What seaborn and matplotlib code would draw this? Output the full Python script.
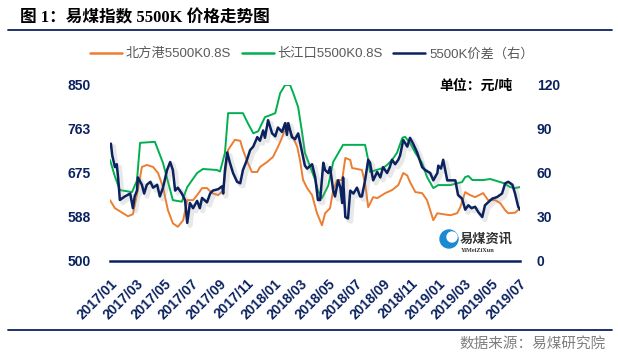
import pandas as pd
import numpy as np
import matplotlib
matplotlib.use("Agg")
import matplotlib.pyplot as plt
import matplotlib.dates as mdates
import matplotlib.patheffects as pe
from matplotlib.patches import Ellipse
from matplotlib.lines import Line2D
import seaborn as sns

# 长江口 5500K 0.8S
green_dates = ["2017-01-01", "2017-01-12", "2017-01-23", "2017-02-19", "2017-03-02", "2017-03-09",
               "2017-04-11", "2017-04-29", "2017-05-21", "2017-06-10", "2017-06-22", "2017-07-14",
               "2017-07-27", "2017-08-27", "2017-09-03", "2017-09-14", "2017-09-21", "2017-10-24",
               "2017-11-04", "2017-11-16", "2017-11-27", "2017-12-12", "2018-01-04", "2018-01-15",
               "2018-01-26", "2018-02-06", "2018-02-13", "2018-02-24", "2018-03-05", "2018-03-11",
               "2018-03-23", "2018-04-03", "2018-04-09", "2018-04-18", "2018-05-02", "2018-05-13",
               "2018-06-04", "2018-07-23", "2018-07-30", "2018-08-03", "2018-09-01", "2018-09-10",
               "2018-09-21", "2018-10-02", "2018-10-14", "2018-10-20", "2018-10-31", "2018-11-12",
               "2018-11-27", "2018-12-08", "2018-12-22", "2019-01-02", "2019-01-29", "2019-02-24",
               "2019-03-03", "2019-03-10", "2019-03-19", "2019-04-12", "2019-04-28", "2019-05-27",
               "2019-06-11", "2019-06-22", "2019-07-03"]
green_vals = [701, 668, 641, 637, 660, 735, 737, 695, 621, 618, 647, 675, 683, 681, 678, 715,
              794, 794, 774, 754, 758, 786, 794, 834, 850, 850, 834, 806, 754, 715, 687, 661,
              640, 625, 650, 697, 731, 731, 701, 677, 685, 691, 701, 715, 745, 747, 735, 715,
              695, 667, 645, 651, 651, 657, 667, 669, 661, 661, 663, 655, 647, 645, 647]

# 北方港 5500K 0.8S
orange_dates = ["2017-01-01", "2017-01-12", "2017-01-30", "2017-02-10", "2017-02-21", "2017-03-04",
                "2017-03-13", "2017-03-24", "2017-04-07", "2017-04-18", "2017-04-29", "2017-05-10",
                "2017-05-21", "2017-06-01", "2017-06-13", "2017-06-22", "2017-07-05", "2017-07-14",
                "2017-07-25", "2017-08-05", "2017-08-16", "2017-08-30", "2017-09-10", "2017-09-21",
                "2017-10-06", "2017-10-18", "2017-10-24", "2017-11-04", "2017-11-13", "2017-11-25",
                "2017-12-01", "2017-12-17", "2017-12-30", "2018-01-10", "2018-01-19", "2018-01-30",
                "2018-02-10", "2018-02-22", "2018-02-28", "2018-03-07", "2018-03-16", "2018-03-27",
                "2018-04-07", "2018-04-18", "2018-04-25", "2018-05-06", "2018-05-13", "2018-05-22",
                "2018-06-02", "2018-06-09", "2018-06-20", "2018-06-24", "2018-07-16", "2018-07-23",
                "2018-07-30", "2018-08-10", "2018-08-19", "2018-09-06", "2018-09-21", "2018-10-05",
                "2018-10-16", "2018-10-25", "2018-10-31", "2018-11-12", "2018-11-27", "2018-12-08",
                "2018-12-22", "2018-12-31", "2019-01-13", "2019-01-29", "2019-02-13", "2019-02-20",
                "2019-03-03", "2019-03-14", "2019-03-25", "2019-04-12", "2019-04-23", "2019-05-09",
                "2019-05-20", "2019-05-31", "2019-06-07", "2019-06-22", "2019-07-03"]
orange_vals = [621, 605, 595, 589, 593, 641, 687, 691, 687, 675, 647, 601, 575, 568, 581, 621,
               621, 631, 645, 645, 635, 631, 640, 721, 741, 739, 721, 695, 677, 677, 687, 697,
               707, 727, 745, 774, 751, 727, 701, 661, 645, 631, 595, 571, 595, 605, 641, 661,
               661, 705, 701, 685, 681, 655, 607, 627, 625, 635, 641, 651, 675, 670, 657, 637,
               635, 621, 581, 595, 593, 591, 595, 607, 637, 631, 627, 635, 621, 621, 615, 601,
               595, 596, 605]

# 5500K 价差 (right axis)
spread_dates = ["2017-01-01", "2017-01-03", "2017-01-06", "2017-01-12", "2017-01-16", "2017-01-19",
                "2017-01-23", "2017-02-03", "2017-02-15", "2017-02-21", "2017-02-25", "2017-03-02",
                "2017-03-04", "2017-03-13", "2017-03-18", "2017-03-24", "2017-04-01", "2017-04-07",
                "2017-04-16", "2017-04-22", "2017-04-29", "2017-05-08", "2017-05-15", "2017-05-21",
                "2017-05-26", "2017-06-01", "2017-06-10", "2017-06-17", "2017-06-22", "2017-06-28",
                "2017-07-05", "2017-07-14", "2017-07-20", "2017-07-25", "2017-08-05", "2017-08-12",
                "2017-08-18", "2017-08-30", "2017-09-08", "2017-09-10", "2017-09-14", "2017-09-19",
                "2017-09-25", "2017-10-02", "2017-10-11", "2017-10-18", "2017-10-24", "2017-11-02",
                "2017-11-09", "2017-11-16", "2017-11-25", "2017-12-01", "2017-12-08", "2017-12-12",
                "2017-12-19", "2017-12-28", "2018-01-04", "2018-01-10", "2018-01-19", "2018-01-26",
                "2018-01-30", "2018-02-02", "2018-02-10", "2018-02-17", "2018-02-24", "2018-03-05",
                "2018-03-11", "2018-03-16", "2018-03-27", "2018-04-03", "2018-04-09", "2018-04-14",
                "2018-04-21", "2018-04-25", "2018-05-02", "2018-05-06", "2018-05-13", "2018-05-17",
                "2018-05-24", "2018-05-29", "2018-06-02", "2018-06-04", "2018-06-09", "2018-06-15",
                "2018-06-20", "2018-06-27", "2018-07-05", "2018-07-12", "2018-07-16", "2018-07-23",
                "2018-07-30", "2018-08-03", "2018-08-10", "2018-08-19", "2018-08-26", "2018-09-01",
                "2018-09-10", "2018-09-16", "2018-09-21", "2018-09-28", "2018-10-05", "2018-10-09",
                "2018-10-16", "2018-10-25", "2018-10-31", "2018-11-07", "2018-11-16", "2018-11-27",
                "2018-12-04", "2018-12-15", "2018-12-22", "2018-12-31", "2019-01-02", "2019-01-08",
                "2019-01-13", "2019-01-22", "2019-02-02", "2019-02-09", "2019-02-15", "2019-02-24",
                "2019-03-03", "2019-03-10", "2019-03-17", "2019-03-25", "2019-04-01", "2019-04-10",
                "2019-04-16", "2019-04-23", "2019-05-02", "2019-05-13", "2019-05-24", "2019-05-31",
                "2019-06-07", "2019-06-16", "2019-06-22", "2019-06-29", "2019-07-03"]
spread_vals = [79, 80, 72, 64, 66, 57, 41.6, 44, 46, 36, 44, 48, 57, 52, 46, 52, 54, 50, 52, 44,
               50, 62, 67.5, 62, 48, 50, 46, 41.6, 26, 39.5, 36, 41, 36, 43, 40, 46, 48, 49, 51,
               46, 62, 74, 67, 60, 54, 53, 62, 69, 75.6, 78, 84.5, 82, 89, 84, 96, 87, 85, 91, 88,
               94, 86, 94, 84.5, 83, 87, 74, 65, 63, 66, 57, 41.6, 41.6, 67, 62, 60, 64, 48, 44,
               55, 50, 39.5, 57, 30, 29, 48, 46, 50, 44, 44, 55, 69, 67, 55, 60.7, 57, 64, 60, 64,
               69, 66, 69, 72, 82.5, 78, 84, 80, 74, 64, 62, 60, 55, 60, 65, 63, 69, 55, 55, 55,
               45, 42.5, 35, 38, 36, 37, 33.4, 30, 38, 40, 42.5, 43.6, 46, 53, 54, 52, 46, 37, 35]

left_ticks = [500, 587.5, 675, 762.5, 850]
left_labels = ["500", "588", "675", "763", "850"]
right_ticks = [0, 30, 60, 90, 120]

series_names = ["北方港5500K0.8S", "长江口5500K0.8S", "5500K价差（右）"]

NAVY = "#0B2260"
ORANGE = "#ED7D31"
GREEN = "#00B050"

sns.set_theme(style="white")
plt.rcParams["font.family"] = ["Liberation Sans", "Noto Sans CJK SC"]

df_green = pd.DataFrame({"date": pd.to_datetime(green_dates), "price": green_vals})
df_orange = pd.DataFrame({"date": pd.to_datetime(orange_dates), "price": orange_vals})
df_spread = pd.DataFrame({"date": pd.to_datetime(spread_dates), "spread": spread_vals})

fig = plt.figure(figsize=(6.18, 3.6), dpi=100)
ax = fig.add_axes([110 / 618, 1 - 261 / 360, 410 / 618, 176 / 360])
ax2 = ax.twinx()

sns.lineplot(data=df_orange, x="date", y="price", ax=ax, color=ORANGE, lw=1.4, estimator=None)
sns.lineplot(data=df_green, x="date", y="price", ax=ax, color=GREEN, lw=1.4, estimator=None)
# spread line has a soft grey drop shadow in the original
sns.lineplot(data=df_spread, x="date", y="spread", ax=ax2, color=NAVY, lw=1.8, estimator=None,
             path_effects=[pe.SimpleLineShadow(offset=(2, -2), shadow_color="#9a9a9a", alpha=0.22, linewidth=3.5),
                           pe.Normal()])

ax.set_xlim(pd.Timestamp("2017-01-01"), pd.Timestamp("2019-07-03"))
ax.set_ylim(500, 850)
ax2.set_ylim(0, 120)
ax.set_yticks(left_ticks)
ax.set_yticklabels(left_labels)
ax2.set_yticks(right_ticks)
ax.set_xlabel("")
ax.set_ylabel("")
ax2.set_ylabel("")

ax.xaxis.set_major_locator(mdates.MonthLocator(bymonth=[1, 3, 5, 7, 9, 11]))
ax.xaxis.set_major_formatter(mdates.DateFormatter("%Y/%m"))

for a in (ax, ax2):
    for s in ["top", "left", "right"]:
        a.spines[s].set_visible(False)
ax2.spines["bottom"].set_visible(False)
ax.spines["bottom"].set_color(NAVY)
ax.spines["bottom"].set_linewidth(1.8)

ax.tick_params(axis="x", direction="out", length=4, width=1.2, color=NAVY, pad=7,
               labelsize=10, labelcolor=NAVY)
ax.tick_params(axis="y", length=0, pad=14, labelsize=10, labelcolor=NAVY)
ax2.tick_params(axis="y", length=0, pad=12, labelsize=10, labelcolor=NAVY)
for lab in ax.get_xticklabels():
    lab.set_rotation(45)
    lab.set_ha("right")
    lab.set_rotation_mode("anchor")
    lab.set_fontweight("bold")
for lab in ax.get_yticklabels() + ax2.get_yticklabels():
    lab.set_fontweight("bold")

# title and rules
fig.text(20 / 618, 1 - 18.5 / 360, "图 1：易煤指数 5500K 价格走势图", fontsize=12, fontweight="bold",
         family=["Liberation Serif", "Noto Sans CJK SC"], va="center", ha="left", color="black")
fig.add_artist(Line2D([8 / 618, 612 / 618], [1 - 30 / 360, 1 - 30 / 360], color=NAVY, lw=1.3))
fig.add_artist(Line2D([8 / 618, 612 / 618], [1 - 330 / 360, 1 - 330 / 360], color=NAVY, lw=1.3))
fig.text(606 / 618, 1 - 344 / 360, "数据来源：易煤研究院", fontsize=10.5, color="#7f7f7f",
         ha="right", va="center")
fig.text(513 / 618, 1 - 86 / 360, "单位：元/吨", fontsize=10, fontweight="bold", color="black",
         ha="right", va="center")

# legend
handles = [Line2D([], [], color=ORANGE, lw=1.8), Line2D([], [], color=GREEN, lw=1.8),
           Line2D([], [], color=NAVY, lw=1.8)]
leg = fig.legend(handles, series_names, loc="center", bbox_to_anchor=(312 / 618, 1 - 54 / 360),
                 ncol=3, frameon=False, fontsize=9.5, handlelength=2.4, handletextpad=0.3,
                 columnspacing=0.8)
for t in leg.get_texts():
    t.set_color("#595959")

# logo
fig.add_artist(Ellipse((449 / 618, 1 - 239 / 360), 18 / 618, 18 / 360, color="#1b8ad3"))
fig.add_artist(Ellipse((452 / 618, 1 - 237 / 360), 10 / 618, 10 / 360, color="white"))
fig.text(460 / 618, 1 - 239 / 360, "易煤资讯", fontsize=9.5, fontweight="bold", color="#333333",
         ha="left", va="center")
fig.text(461 / 618, 1 - 250 / 360, "YiMeiZiXun", fontsize=4.5, fontweight="bold", color="#333333",
         ha="left", va="center", family="Liberation Serif")

fig.savefig("out.png", dpi=100)
